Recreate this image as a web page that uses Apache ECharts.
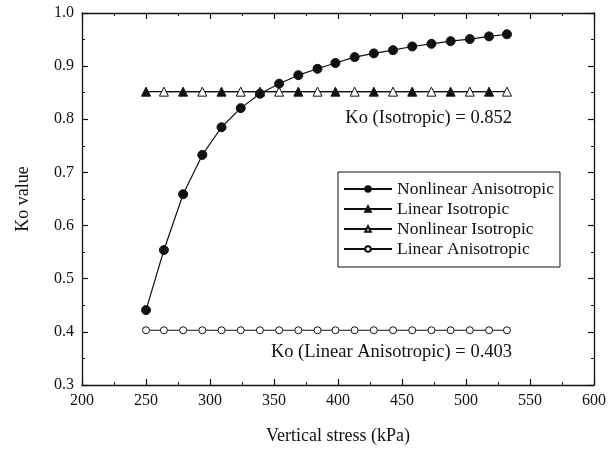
<!DOCTYPE html>
<html>
<head>
<meta charset="utf-8">
<title>Ko value vs vertical stress</title>
<script src="https://cdn.jsdelivr.net/npm/echarts@6/dist/echarts.min.js"></script>
<style>
  html, body { margin: 0; padding: 0; background: #fff; }
  #chart { width: 616px; height: 450px; }
</style>
</head>
<body>
<div id="chart"></div>
<script>
// Vertical stress steps (kPa)
const stress = [250, 264, 279, 294, 309, 324, 339, 354, 369, 384,
                398, 413, 428, 443, 458, 473, 488, 503, 518, 532];

// Ko for the nonlinear anisotropic model
const nonlinearAniso = [0.441, 0.554, 0.659, 0.733, 0.785, 0.821, 0.848, 0.867, 0.883, 0.895,
                        0.906, 0.917, 0.924, 0.930, 0.937, 0.942, 0.947, 0.951, 0.956, 0.960];

// Constant Ko values
const isoK = 0.852;        // both isotropic models
const linearAnisoK = 0.403;

// Isotropic models are plotted on alternating stress steps
const linearIsoStress = stress.filter((_, i) => i % 2 === 0);
const nonlinearIsoStress = stress.filter((_, i) => i % 2 === 1);

const yTicks = ['0.3', '0.4', '0.5', '0.6', '0.7', '0.8', '0.9', '1.0'];
const xTicks = ['200', '250', '300', '350', '400', '450', '500', '550', '600'];

const FONT = '"Liberation Serif", "DejaVu Serif", serif';
const INK = '#111';

const pairs = (xs, ys) => xs.map((x, i) => [x, Array.isArray(ys) ? ys[i] : ys]);

const axisBase = {
  axisLine: { lineStyle: { color: INK, width: 1.3 } },
  axisTick: { inside: true, length: 6, lineStyle: { color: INK, width: 1.2 } },
  minorTick: { show: true, splitNumber: 2, length: 3, lineStyle: { color: INK, width: 1 } },
  splitLine: { show: false }
};

const chart = echarts.init(document.getElementById('chart'), null, { renderer: 'canvas' });

chart.setOption({
  backgroundColor: '#fff',
  animation: false,
  grid: { left: 82, top: 13, width: 512, height: 372 },
  xAxis: [
    Object.assign({}, axisBase, {
      type: 'value', min: 200, max: 600, interval: 50, position: 'bottom',
      name: 'Vertical stress (kPa)', nameLocation: 'middle', nameGap: 42,
      nameTextStyle: { fontFamily: FONT, fontSize: 18, color: INK },
      axisLabel: {
        fontFamily: FONT, fontSize: 16, color: INK, margin: 8,
        formatter: v => xTicks[Math.round((v - 200) / 50)]
      }
    }),
    Object.assign({}, axisBase, {
      type: 'value', min: 200, max: 600, interval: 50, position: 'top',
      axisLabel: { show: false }
    })
  ],
  yAxis: [
    Object.assign({}, axisBase, {
      type: 'value', min: 0.3, max: 1.0, interval: 0.1, position: 'left',
      name: 'Ko value', nameLocation: 'middle', nameGap: 50,
      nameTextStyle: { fontFamily: FONT, fontSize: 18, color: INK },
      axisLabel: {
        fontFamily: FONT, fontSize: 16, color: INK, margin: 8,
        formatter: v => yTicks[Math.round((v - 0.3) / 0.1)]
      }
    }),
    Object.assign({}, axisBase, {
      type: 'value', min: 0.3, max: 1.0, interval: 0.1, position: 'right',
      axisLabel: { show: false }
    })
  ],
  legend: {
    orient: 'vertical',
    left: 338, top: 172,
    padding: [8, 6, 9, 5],
    itemGap: 2,
    itemWidth: 48, itemHeight: 7,
    borderColor: INK, borderWidth: 1,
    backgroundColor: '#fff',
    textStyle: { fontFamily: FONT, fontSize: 17.5, color: INK },
    data: ['Nonlinear Anisotropic', 'Linear Isotropic', 'Nonlinear Isotropic', 'Linear Anisotropic']
  },
  graphic: [
    {
      type: 'text', right: 616 - 512, top: 109,
      style: { text: 'Ko (Isotropic) = ' + isoK.toFixed(3), font: '18.5px ' + FONT, fill: INK }
    },
    {
      type: 'text', right: 616 - 512, top: 343,
      style: { text: 'Ko (Linear Anisotropic) = ' + linearAnisoK.toFixed(3), font: '18.5px ' + FONT, fill: INK }
    }
  ],
  series: [
    {
      name: 'Nonlinear Anisotropic', type: 'line',
      data: pairs(stress, nonlinearAniso),
      symbol: 'circle', symbolSize: 9,
      lineStyle: { color: INK, width: 1.2 },
      itemStyle: { color: INK, borderColor: INK, borderWidth: 1 },
      z: 5
    },
    {
      name: 'Linear Isotropic', type: 'line',
      data: pairs(linearIsoStress, isoK),
      symbol: 'triangle', symbolSize: 9,
      lineStyle: { color: INK, width: 1.2 },
      itemStyle: { color: INK, borderColor: INK, borderWidth: 1 },
      z: 3
    },
    {
      name: 'Nonlinear Isotropic', type: 'line',
      data: pairs(nonlinearIsoStress, isoK),
      symbol: 'triangle', symbolSize: 9,
      lineStyle: { color: INK, width: 1.2 },
      itemStyle: { color: '#fff', borderColor: INK, borderWidth: 1 },
      z: 4
    },
    {
      name: 'Linear Anisotropic', type: 'line',
      data: pairs(stress, linearAnisoK),
      symbol: 'circle', symbolSize: 7,
      lineStyle: { color: INK, width: 1 },
      itemStyle: { color: '#fff', borderColor: INK, borderWidth: 1 },
      z: 3
    }
  ]
});
</script>
</body>
</html>
